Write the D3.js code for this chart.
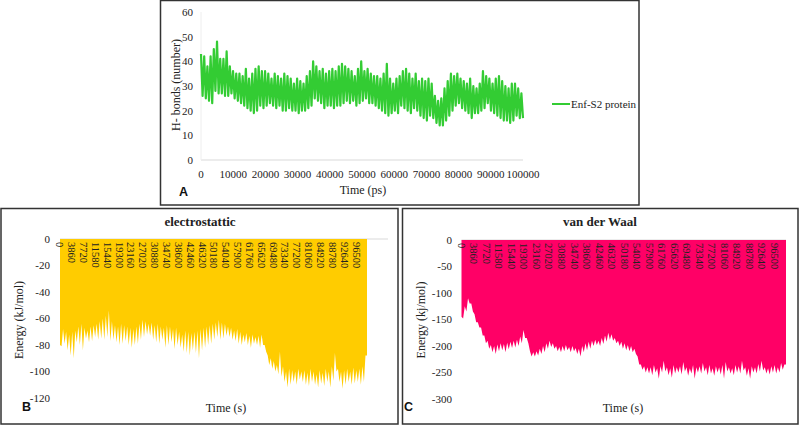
<!DOCTYPE html>
<html><head><meta charset="utf-8">
<script src="https://cdn.jsdelivr.net/npm/d3@7"></script>
<style>
html,body{margin:0;padding:0;background:#fff;}
svg{display:block;}
</style></head>
<body>
<svg id="chart" width="800" height="426" font-family="'Liberation Serif', 'Times New Roman', 'DejaVu Serif', serif"></svg>
<script>
// ---------- DATA ----------
// Panel A: H-bonds (number), alternating envelope readings across 0..100000 ps
const hbondTimeMax = 100000;
const hbondValues = [43,26,42,25,38,24,42,23,45,28,48,27,41,27,41,26,44,26,38,27,36,25,35,24,35,23,34,22,37,21,33,20,35,19,37,20,38,22,36,21,36,22,35,23,33,22,35,21,34,22,33,20,35,20,34,21,33,20,31,20,33,19,32,20,31,20,34,21,36,22,40,25,38,24,36,23,37,21,35,22,36,22,37,21,36,22,38,22,39,23,38,24,37,23,36,24,34,22,37,23,40,24,36,25,37,23,35,23,34,22,34,21,33,20,35,19,39,18,33,19,31,20,33,19,34,22,36,21,37,20,35,19,33,21,35,20,32,18,33,17,32,16,33,18,31,17,26,15,24,14,25,14,29,16,32,18,35,20,34,22,35,23,33,21,32,20,31,19,33,17,30,19,29,19,31,20,36,21,34,23,33,20,31,19,33,18,34,17,32,16,30,16,29,15,31,16,31,18,29,17,27,17];
const hbondTicksY = [0,10,20,30,40,50,60];
const hbondTicksX = [0,10000,20000,30000,40000,50000,60000,70000,80000,90000,100000];
const hbondSeriesName = "Enf-S2 protein";

// Panel B: electrostatic energy (kJ/mol)
const electroValues = [-80,-81,-68,-79,-70,-84,-72,-88,-70,-90,-69,-78,-66,-80,-64,-84,-67,-75,-69,-78,-66,-77,-65,-74,-64,-76,-62,-75,-60,-76,-58,-74,-54,-77,-62,-76,-65,-78,-66,-80,-64,-79,-65,-77,-66,-80,-67,-82,-68,-80,-66,-79,-64,-76,-61,-74,-62,-72,-64,-73,-63,-76,-65,-78,-64,-79,-66,-76,-67,-82,-65,-80,-66,-78,-68,-83,-67,-80,-70,-82,-72,-85,-69,-86,-70,-88,-71,-84,-70,-86,-69,-90,-68,-84,-67,-82,-66,-80,-65,-79,-64,-76,-63,-74,-61,-76,-63,-75,-64,-73,-66,-74,-67,-76,-69,-77,-68,-79,-70,-80,-72,-78,-71,-80,-73,-82,-72,-79,-74,-80,-73,-82,-72,-80,-80,-85,-88,-95,-90,-98,-92,-100,-95,-102,-85,-104,-96,-108,-100,-112,-98,-110,-99,-108,-100,-110,-98,-106,-100,-108,-99,-110,-101,-111,-98,-108,-100,-110,-102,-112,-99,-109,-101,-111,-98,-108,-100,-112,-96,-107,-86,-100,-98,-108,-100,-113,-99,-110,-98,-108,-100,-110,-97,-109,-99,-108,-98,-110,-96,-108,-88,-88];
const electroTicksY = [0,-20,-40,-60,-80,-100,-120];

// Panel C: van der Waals energy (kj/mol)
const vdwValues = [-145,-148,-125,-135,-110,-120,-120,-135,-140,-155,-155,-165,-165,-180,-180,-195,-190,-205,-198,-212,-200,-215,-197,-210,-195,-208,-196,-212,-194,-206,-192,-204,-190,-203,-188,-200,-182,-195,-170,-185,-185,-195,-210,-220,-212,-220,-210,-218,-205,-215,-200,-212,-195,-205,-190,-202,-195,-205,-200,-210,-202,-212,-200,-210,-198,-208,-202,-212,-200,-210,-204,-215,-205,-220,-200,-212,-195,-208,-192,-205,-190,-200,-188,-198,-190,-200,-185,-196,-180,-192,-175,-188,-178,-190,-185,-195,-190,-200,-192,-205,-195,-208,-198,-210,-200,-212,-205,-215,-220,-235,-235,-245,-238,-250,-240,-252,-240,-255,-236,-250,-242,-262,-238,-250,-228,-248,-240,-255,-242,-260,-236,-252,-240,-250,-238,-254,-230,-248,-240,-256,-242,-252,-236,-262,-240,-250,-238,-252,-232,-248,-240,-255,-236,-252,-242,-256,-238,-250,-240,-254,-236,-262,-230,-248,-240,-252,-242,-255,-236,-250,-238,-252,-228,-246,-240,-256,-242,-262,-238,-250,-240,-252,-234,-248,-228,-246,-240,-252,-242,-254,-238,-250,-236,-252,-240,-250,-232,-245,-235,-235];
const vdwTicksY = [0,-50,-100,-150,-200,-250,-300];

// Category labels shared by B and C
const timeCategoryLabels = [0,3860,7720,11580,15440,19300,23160,27020,30880,34740,38600,42460,46320,50180,54040,57900,61760,65620,69480,73340,77200,81060,84920,88780,92640,96500];

// ---------- DRAW ----------
const svg = d3.select("#chart");
const border = "#333";
const gridGray = "#d9d9d9";
const textColor = "#222";
const sansLetter = "'Liberation Sans', Arial, sans-serif";

// panel borders
svg.append("rect").attr("x",160.5).attr("y",0.5).attr("width",478.5).attr("height",204.5)
  .attr("fill","none").attr("stroke",border).attr("stroke-width",1.5);
svg.append("rect").attr("x",1).attr("y",208.5).attr("width",397).attr("height",215.5)
  .attr("fill","none").attr("stroke",border).attr("stroke-width",1.5);
svg.append("rect").attr("x",402.5).attr("y",208.5).attr("width",395.5).attr("height",215.5)
  .attr("fill","none").attr("stroke",border).attr("stroke-width",1.5);

// ===== Panel A =====
{
  const x = d3.scaleLinear().domain([0,hbondTimeMax]).range([201,523]);
  const y = d3.scaleLinear().domain([0,60]).range([160,12]);
  const g = svg.append("g").attr("fill",textColor);
  g.append("line").attr("x1",201).attr("x2",523).attr("y1",y(0)).attr("y2",y(0)).attr("stroke",gridGray);
  g.append("line").attr("x1",201).attr("x2",201).attr("y1",y(0)).attr("y2",y(60)).attr("stroke","#eee");
  const step = hbondTimeMax/(hbondValues.length-1);
  const line = d3.line().x((d,i)=>x(i*step)).y(d=>y(d));
  g.append("path").datum(hbondValues).attr("d",line).attr("fill","none")
    .attr("stroke","#33CC33").attr("stroke-width",2.2).attr("stroke-linejoin","round");
  g.selectAll(".yt").data(hbondTicksY).join("text")
    .attr("x",193).attr("y",d=>y(d)).attr("dy","0.35em").attr("text-anchor","end")
    .attr("font-size",11).text(d=>d);
  g.selectAll(".xt").data(hbondTicksX).join("text")
    .attr("x",d=>x(d)).attr("y",174).attr("dy","0.35em").attr("text-anchor","middle")
    .attr("font-size",11).text(d=>d);
  g.append("text").attr("x",363).attr("y",190).attr("dy","0.35em").attr("text-anchor","middle")
    .attr("font-size",12).text("Time (ps)");
  g.append("text").attr("transform","translate(176,85) rotate(-90)").attr("dy","0.35em")
    .attr("text-anchor","middle").attr("font-size",12).text("H- bonds (number)");
  g.append("line").attr("x1",552).attr("x2",570).attr("y1",104).attr("y2",104)
    .attr("stroke","#33CC33").attr("stroke-width",2);
  g.append("text").attr("x",571).attr("y",104).attr("dy","0.35em").attr("font-size",11).text(hbondSeriesName);
  g.append("text").attr("font-family",sansLetter).attr("font-weight","bold").attr("fill","#111")
    .attr("x",179).attr("y",196).attr("font-size",12.5).text("A");
}

// ===== Panels B and C =====
function energyPanel(opts){
  const x = d3.scaleLinear().domain([0,100000]).range([opts.x0,opts.x1]);
  const y = d3.scaleLinear().domain([0,opts.ymin]).range([opts.yTop,opts.yBot]);
  const g = svg.append("g").attr("fill",textColor);
  g.append("line").attr("x1",opts.x0).attr("x2",opts.axisEnd).attr("y1",y(0)).attr("y2",y(0)).attr("stroke",gridGray);
  const vals = opts.values;
  const step = 100000/(vals.length-1);
  const area = d3.area().x((d,i)=>x(i*step)).y0(y(0)).y1(d=>y(d));
  g.append("path").datum(vals).attr("d",area).attr("fill",opts.color);
  g.selectAll(".yt").data(opts.ticks).join("text")
    .attr("x",opts.tickX).attr("y",d=>y(d)).attr("dy","0.35em").attr("text-anchor","end")
    .attr("font-size",11).text(d=>d);
  g.selectAll(".cat").data(timeCategoryLabels).join("text")
    .attr("transform",d=>`translate(${x(d)},${y(0)+3}) rotate(90)`)
    .attr("dy","0.35em").attr("text-anchor","start").attr("font-size",10.5).text(d=>d);
  g.append("text").attr("x",opts.titleX).attr("y",221).attr("dy","0.35em").attr("text-anchor","middle")
    .attr("font-size",13).attr("font-weight","bold").text(opts.title);
  g.append("text").attr("x",opts.timeX).attr("y",408).attr("dy","0.35em").attr("text-anchor","middle")
    .attr("font-size",12).text("Time (s)");
  g.append("text").attr("transform",`translate(${opts.ylabX},320) rotate(-90)`).attr("dy","0.35em")
    .attr("text-anchor","middle").attr("font-size",12).text(opts.ylabel);
  g.append("text").attr("font-family",sansLetter).attr("font-weight","bold").attr("fill","#111")
    .attr("x",opts.letterX).attr("y",411).attr("font-size",12.5).text(opts.letter);
}

energyPanel({x0:60,x1:367,axisEnd:388,yTop:239,yBot:398,ymin:-120,values:electroValues,ticks:electroTicksY,
  color:"#FFCC00",tickX:50,title:"electrostattic",titleX:200,timeX:226,ylabX:19,ylabel:"Energy (kJ/mol)",letter:"B",letterX:22});
energyPanel({x0:461.5,x1:786,axisEnd:786,yTop:240,yBot:399,ymin:-300,values:vdwValues,ticks:vdwTicksY,
  color:"#FF0066",tickX:452,title:"van der Waal",titleX:600,timeX:623,ylabX:421,ylabel:"Energy (kj/mol)",letter:"C",letterX:404});
</script>
</body></html>
